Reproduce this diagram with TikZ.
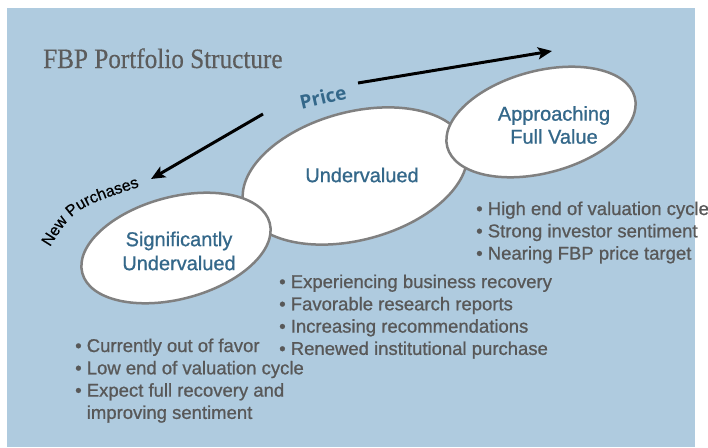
\documentclass[tikz,border=0pt]{standalone}
\usepackage{fontspec}
\setmainfont{Liberation Sans}
\newfontfamily\heavyfont[FakeBold=0.9]{Liberation Sans}
\newfontfamily\midfont[FakeBold=0.5]{Liberation Sans}
\newfontfamily\titlefont[FakeBold=0.4]{Liberation Serif}
\newfontfamily\pricefont{Open Sans}
\usetikzlibrary{shapes.geometric,arrows.meta,decorations.text}
\definecolor{bgblue}{RGB}{175,203,223}
\definecolor{txtblue}{RGB}{52,104,138}
\definecolor{txtgray}{RGB}{88,88,88}
\definecolor{titlegray}{RGB}{92,92,92}
\definecolor{rimgray}{RGB}{128,128,128}
\begin{document}
\begin{tikzpicture}[x=1pt,y=-1pt,
  blob/.style={ellipse, draw=rimgray, line width=2.5pt, fill=white, inner sep=0pt, rotate=15},
  stagelabel/.style={text=txtblue, font=\heavyfont\fontsize{20}{24}\selectfont, align=center, inner sep=0pt},
  bulletline/.style={text=txtgray, font=\heavyfont\fontsize{18.5}{22.3}\selectfont, anchor=base west, inner sep=0pt},
  bigarrow/.style={line width=3pt, -{Stealth[length=14pt,width=12pt,inset=3pt]}}
]
\useasboundingbox (0,0) rectangle (708,447);
\fill[bgblue] (7,8) rectangle (695,447);

% title
\node[anchor=base west, inner sep=0pt, text=titlegray, font=\titlefont\fontsize{28}{30}\selectfont, xscale=0.9] (title) at (43,68) {FBP Portfolio Structure};

% ellipses
\node[blob, minimum width=230pt, minimum height=128pt] (e2) at (355,176) {};
\node[blob, minimum width=194pt, minimum height=102pt] (e1) at (176,248) {};
\node[blob, minimum width=194pt, minimum height=102pt] (e3) at (541,122) {};

\node[stagelabel] (l1) at (179,251) {Significantly\\Undervalued};
\node[stagelabel] (l2) at (362,175) {Undervalued};
\node[stagelabel, font=\heavyfont\fontsize{20}{23}\selectfont] (l3) at (554,125) {Approaching\\Full Value};

% arrows
\coordinate (up0) at (358,83);
\coordinate (up1) at (552,51);
\coordinate (dn0) at (263,114);
\coordinate (dn1) at (151,179);
\draw[bigarrow] (up0) -- (up1);
\draw[bigarrow] (dn0) -- (dn1);

\node[rotate=13, text=txtblue, inner sep=0pt, font=\pricefont\bfseries\fontsize{19}{21}\selectfont] (price) at (323,97) {Price};

% curved label
\coordinate (np0) at (47,252);
\coordinate (npc) at (74,208);
\coordinate (np1) at (145,185);
\path[decorate, decoration={text along path, text={|\midfont\fontsize{16}{18}\selectfont|New Purchases}, text align=center}] (np0) .. controls (npc) .. (np1);

% bullets
\foreach \t [count=\i from 0] in {• Currently out of favor, • Low end of valuation cycle, • Expect full recovery and, \phantom{• }improving sentiment}
  \node[bulletline] (ga\i) at (75,352+22.3*\i) {\t};
\foreach \t [count=\i from 0] in {• Experiencing business recovery, • Favorable research reports, • Increasing recommendations, • Renewed institutional purchase}
  \node[bulletline] (gb\i) at (279,288+22.3*\i) {\t};
\foreach \t [count=\i from 0] in {• High end of valuation cycle, • Strong investor sentiment, • Nearing FBP price target}
  \node[bulletline] (gc\i) at (476,215+22.3*\i) {\t};
\end{tikzpicture}
\end{document}
